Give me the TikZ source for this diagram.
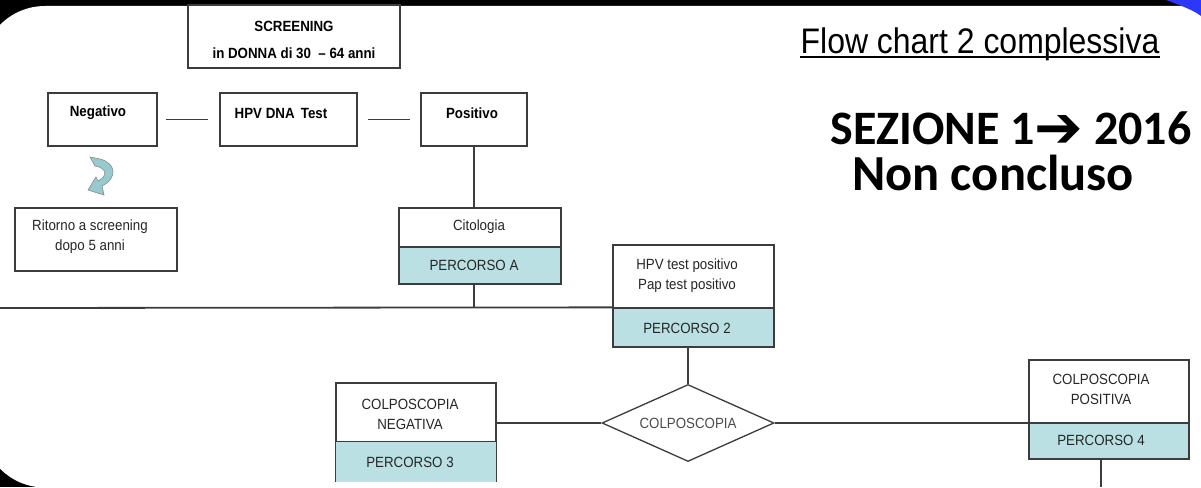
\documentclass[tikz,border=0pt]{standalone}
\usepackage{fontspec}
\setmainfont[FakeStretch=0.9]{Liberation Sans}
\newfontfamily\sezfont{Carlito}
\newfontfamily\symfont{DejaVu Sans}
\usetikzlibrary{shapes.geometric}
\definecolor{linegray}{RGB}{60,60,60}
\definecolor{pathblue}{RGB}{186,224,227}
\definecolor{iconblue}{RGB}{150,202,207}
\definecolor{rimblue}{RGB}{45,55,250}
\newcommand{\boxsize}{\fontsize{14.8}{20}\selectfont}
\newcommand{\titlesize}{\fontsize{35.5}{40}\selectfont}
\newcommand{\bigsize}{\fontsize{48}{52}\selectfont}
\tikzset{
  box/.style={draw=linegray, line width=1.3pt, fill=white, inner sep=0pt},
  pbox/.style={box, fill=pathblue},
  txt/.style={inner sep=0pt, align=center, font=\boxsize, text=black!85},
  btxt/.style={txt, font=\boxsize\bfseries, text=black},
  link/.style={draw=linegray, line width=1.3pt}
}
\begin{document}
\begin{tikzpicture}[x=1pt,y=-1pt]
\useasboundingbox (0,0) rectangle (1201,487);
% slide frame
\fill[black] (0,0) rectangle (1201,487);
\fill[white, rounded corners=63pt] (-18,6) rectangle (1300,487.5);
\fill[rimblue] (1166,0) .. controls (1182,6) and (1193,10) .. (1201,16) -- (1201,0) -- cycle;

\coordinate (LX) at (0,308); % left end of long line
\coordinate (BY) at (1101,487); % bottom end

% top row
\node[box, minimum width=212pt, minimum height=63pt] (scr) at (294,36.5) {};
\node[btxt] (scrA) at (294,26) {SCREENING};
\node[btxt] (scrB) at (294,53) {in DONNA di 30 \ -- 64 anni};
\node[box, minimum width=109pt, minimum height=53pt] (neg) at (102.5,119.5) {};
\node[btxt] (negT) at (98,113) {Negativo};
\node[box, minimum width=137pt, minimum height=53pt] (hpv) at (288.5,119.5) {};
\node[btxt] (hpvT) at (281,113) {HPV DNA \,Test};
\node[box, minimum width=106pt, minimum height=53pt] (pos) at (474,119.5) {};
\node[btxt] (posT) at (472,113) {Positivo};
\draw[link] ([xshift=8pt]neg.east) -- ([xshift=-11pt]hpv.west);
\draw[link] ([xshift=10pt]hpv.east) -- ([xshift=-10pt]pos.west);

% back to screening
\filldraw[fill=iconblue, draw=linegray!60, line width=0.6pt]
  (90,157) -- (100,159) .. controls (116,163) and (118,178) .. (102,186)
  -- (104,195) -- (88,190) -- (96,177) -- (98,181)
  .. controls (108,176) and (107,168) .. (95,166) -- cycle;
\node[box, minimum width=162pt, minimum height=63pt] (ret) at (96,239.5) {};
\node[txt] (retT) at (90,237) {Ritorno a screening\\dopo 5 anni};

% citologia
\node[box, minimum width=162pt, minimum height=39pt] (cito) at (480,227.5) {};
\node[txt] (citoT) at (479,227) {Citologia};
\node[pbox, minimum width=162pt, minimum height=37pt] (percA) at (480,265.5) {};
\node[txt] (percAT) at (474,265) {PERCORSO A};
\draw[link] (pos.south) -- (pos.south |- cito.north);
\draw[link] (pos.south |- percA.south) -- (pos.south |- LX);

% hpv + pap
\node[box, minimum width=161pt, minimum height=63pt] (pap) at (693.5,276.5) {};
\node[txt] (papT) at (687,276) {HPV test positivo\\Pap test positivo};
\node[pbox, minimum width=161pt, minimum height=39pt] (perc2) at (693.5,327.5) {};
\node[txt] (perc2T) at (687,328) {PERCORSO 2};
\draw[link, line width=1.8pt] (LX) -- (perc2.north west);

% colposcopia
\node[diamond, draw=linegray, line width=1.3pt, fill=white, inner sep=0pt,
  minimum width=172pt, minimum height=77pt, aspect=2.2, font=\boxsize,
  text=black!70] (colpo) at (688,423) {COLPOSCOPIA\hspace{14pt}};
\draw[link] (perc2.south -| colpo.north) -- (colpo.north);

\node[box, minimum width=160pt, minimum height=59pt] (cneg) at (416,412.5) {};
\node[txt] (cnegT) at (410,414) {COLPOSCOPIA\\NEGATIVA};
\node[fill=pathblue, inner sep=0pt, minimum width=160pt, minimum height=40pt] (perc3) at (416,462) {};
\draw[link] (perc3.south west) -- (perc3.north west) -- (perc3.north east) -- (perc3.south east);
\node[txt] (perc3T) at (410,462) {PERCORSO 3};
\draw[link] (colpo.west) -- (colpo.west -| cneg.east);

\node[box, minimum width=160pt, minimum height=63pt] (cpos) at (1109,391.5) {};
\node[txt] (cposT) at (1101,389) {COLPOSCOPIA\\POSITIVA};
\node[pbox, minimum width=160pt, minimum height=36pt] (perc4) at (1109,441) {};
\node[txt] (perc4T) at (1101,440) {PERCORSO 4};
\draw[link] (colpo.east) -- (colpo.east -| cpos.west);
\draw[link] (BY |- perc4.south) -- (BY);

% titles
\node[inner sep=0pt, anchor=base, font=\titlesize] (flow) at (980,53) {Flow chart 2 complessiva};
\draw[line width=2.2pt] ([yshift=-4pt]flow.base west) -- ([yshift=-4pt]flow.base east);
\node[inner sep=0pt, anchor=base, font=\sezfont\bigsize\bfseries] (sez) at (1011,144)
  {SEZIONE 1{\symfont\bfseries\fontsize{58}{58}\selectfont\raisebox{-3pt}[\height][0pt]{➔}} 2016};
\node[inner sep=0pt, anchor=base, font=\sezfont\fontsize{50.5}{54}\selectfont\bfseries] (nonc) at (993,190) {Non concluso};
\end{tikzpicture}
\end{document}
